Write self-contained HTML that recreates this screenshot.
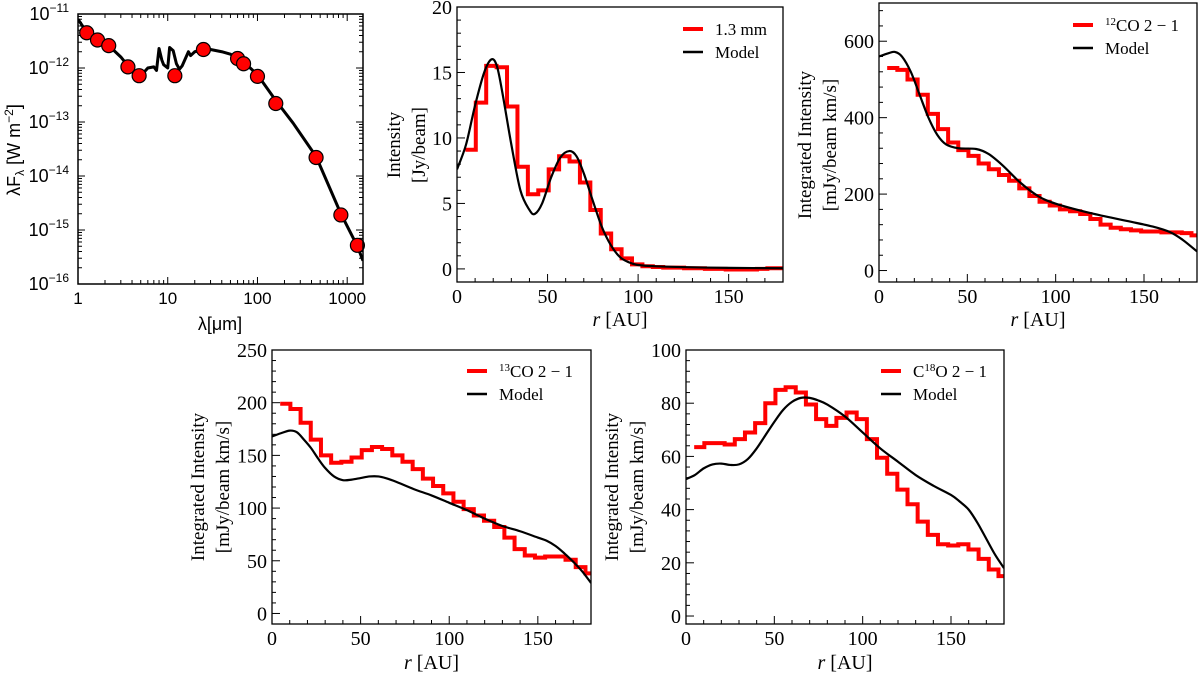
<!DOCTYPE html>
<html><head><meta charset="utf-8"><style>
html,body{margin:0;padding:0;background:#fff;}
svg{display:block;}
.serif{font-family:"Liberation Serif",serif;}
.sans{font-family:"Liberation Sans",sans-serif;}
</style></head><body>
<svg id="fig" width="1200" height="675" viewBox="0 0 1200 675"></svg>
<script>
// ---------- Panel 1 (SED) data ----------
const sedObsWave = [1.25,1.65,2.2,3.6,4.8,12,25,60,70,100,160,450,850,1300];
const sedObsFlux = [4.5e-12,3.3e-12,2.6e-12,1.05e-12,0.72e-12,0.72e-12,2.2e-12,1.5e-12,1.2e-12,0.7e-12,2.2e-13,2.2e-14,1.9e-15,5.2e-16];
const sedModelWave = [1,1.25,1.6,2.2,3,3.6,4.3,4.8,5.5,6,7,7.5,8,8.6,9,10,10.5,11.5,12.5,13.5,14.5,17,18,20,25,30,40,50,70,100,160,250,450,850,1300,1500];
const sedModelFlux = [8e-12,4.6e-12,3.4e-12,2.6e-12,1.6e-12,1.1e-12,0.85e-12,0.75e-12,0.85e-12,1.0e-12,1.05e-12,0.9e-12,2.3e-12,1.4e-12,1.15e-12,1.0e-12,2.4e-12,2.1e-12,1.2e-12,0.95e-12,1.1e-12,2.0e-12,1.7e-12,2.0e-12,2.2e-12,2.2e-12,2.0e-12,1.8e-12,1.3e-12,0.75e-12,0.25e-12,0.095e-12,2.3e-14,2.0e-15,5.0e-16,2.7e-16];
const sedXTicks = [1,10,100,1000];
const sedXTickLabels = ["1","10","100","1000"];
const sedYExp = [-11,-12,-13,-14,-15,-16];

// ---------- Profile panels data ----------
const binCenters = [7.5,13.25,19,24.75,30.5,36.25,42,47.75,53.5,59.25,65,70.75,76.5,82.25,88,93.75,99.5,105.25,111,116.75,122.5,128.25,134,139.75,145.5,151.25,157,162.75,168.5,174.25,179.5];

const contObs = [9.1,12.7,15.5,15.4,12.4,7.8,5.7,6.0,7.6,8.6,8.2,6.6,4.5,2.7,1.5,0.8,0.35,0.2,0.15,0.1,0.1,0.05,0.05,0,0,-0.05,-0.05,-0.05,0,0.05,0.05];
const contModelR = [0,5,10,15,19,22,25,30,35,40,43,47,52,57,62,66,70,75,80,85,90,95,100,110,130,150,180];
const contModelV = [7.6,9.5,12.5,15,16,15.5,13.5,9.5,6,4.5,4.2,5,7,8.5,9.0,8.6,7.3,5.2,3.2,1.8,0.9,0.5,0.3,0.2,0.12,0.08,0.05];

const co12Obs = [530,525,500,460,410,370,335,315,300,280,265,250,235,215,195,180,170,160,155,148,135,120,112,108,105,102,102,100,100,98,92];
const co12ModelR = [0,5,9,13,18,23,28,33,38,45,55,62,70,80,90,100,120,140,155,165,172,180];
const co12ModelV = [560,568,572,560,520,460,400,355,330,320,318,305,275,230,195,175,150,130,115,100,80,50];

const co13Obs = [199,194,181,165,150,143,144,148,155,158,156,150,144,137,128,121,114,106,99,93,88,82,72,61,55,53,54,54,51,44,38];
const co13ModelR = [0,5,10,14,18,22,26,30,35,40,45,50,55,60,65,70,80,90,100,110,120,130,140,150,155,160,165,170,175,180];
const co13ModelV = [168,171,173.5,172,165,157,147,138,130,126.5,127,128.5,130,130,128,125,118,112,105,98,90,83,78,72,69,64,57,49,40,29];

const c18Obs = [63.5,65,65,64.5,66.5,69,72.5,80,85,86,84,79.5,74,71.5,74.5,76.5,74,66.5,59.5,53.5,47.5,42,35.5,30.5,27,26.5,27,25,21.5,17.5,15];
const c18ModelR = [0,5,10,15,20,25,30,35,40,45,50,55,60,65,70,75,80,90,100,110,120,130,140,150,155,160,165,170,175,180];
const c18ModelV = [51.5,53,55.5,57,57.3,56.8,57,59,63,68,73,77.5,80.5,82,82,81,79.5,75,69,63,58,53,49,45.5,43,40,35,29,23,18];

const xTicksR = [0,50,100,150];
const contYTicks = [0,5,10,15,20];
const co12YTicks = [0,200,400,600];
const co13YTicks = [0,50,100,150,200,250];
const c18YTicks = [0,20,40,60,80,100];

const NS = "http://www.w3.org/2000/svg";
const svg = document.getElementById('fig');
function mk(tag, attrs, parent, text){
  const e = document.createElementNS(NS, tag);
  for (const k in attrs) e.setAttribute(k, attrs[k]);
  if (text !== undefined) e.textContent = text;
  (parent || svg).appendChild(e);
  return e;
}
function smoothPath(pts){
  let d = "M"+pts[0][0].toFixed(2)+","+pts[0][1].toFixed(2);
  for (let i=0;i<pts.length-1;i++){
    const p0 = pts[Math.max(0,i-1)], p1 = pts[i], p2 = pts[i+1], p3 = pts[Math.min(pts.length-1,i+2)];
    const c1x = p1[0]+(p2[0]-p0[0])/6, c1y = p1[1]+(p2[1]-p0[1])/6;
    const c2x = p2[0]-(p3[0]-p1[0])/6, c2y = p2[1]-(p3[1]-p1[1])/6;
    d += " C"+c1x.toFixed(2)+","+c1y.toFixed(2)+" "+c2x.toFixed(2)+","+c2y.toFixed(2)+" "+p2[0].toFixed(2)+","+p2[1].toFixed(2);
  }
  return d;
}

// ---------- Panel 1 ----------
(function(){
  const L=78,R=363,T=14,B=284;
  const g = mk('g',{});
  
  
  const xs = v => L + (Math.log10(v)-0)/(Math.log10(1500)) * (R-L);
  const ys = v => T + (-11 - Math.log10(v))/5 * (B-T);
  const clip = mk('clipPath',{id:'c1'},g); mk('rect',{x:L,y:T,width:R-L,height:B-T},clip);
  for (let dec=0; dec<4; dec++){
    for (let m=1;m<10;m++){
      const v = m*Math.pow(10,dec); if (v>1500) break;
      const x = xs(v), len = m===1?7:4;
      mk('line',{x1:x,y1:B,x2:x,y2:B-len,stroke:'#000','stroke-width':1},g);
      mk('line',{x1:x,y1:T,x2:x,y2:T+len,stroke:'#000','stroke-width':1},g);
    }
  }
  for (let e=-16;e<-11;e++){
    for (let m=1;m<10;m++){
      const y = ys(m*Math.pow(10,e)), len = m===1?7:4;
      mk('line',{x1:L,y1:y,x2:L+len,y2:y,stroke:'#000','stroke-width':1},g);
      mk('line',{x1:R,y1:y,x2:R-len,y2:y,stroke:'#000','stroke-width':1},g);
    }
  }
  sedXTicks.forEach((v,i)=>{
    const t = mk('text',{x:xs(v),y:304,'text-anchor':'middle','font-size':17,class:'sans'},g,sedXTickLabels[i]);
    
    
  });
  sedYExp.forEach(e=>{
    const t = mk('text',{x:69,y:ys(Math.pow(10,e))+6,'text-anchor':'end','font-size':18,class:'sans'},g);
    mk('tspan',{},t,'10');
    mk('tspan',{dy:-8,'font-size':12},t,String(e).replace('-','\u2212'));
    
    
  });
  const line = mk('polyline',{points:sedModelWave.map((w,i)=>xs(w).toFixed(2)+','+ys(sedModelFlux[i]).toFixed(2)).join(' '),fill:'none',stroke:'#000','stroke-width':3,'stroke-linejoin':'round','clip-path':'url(#c1)'},g);
  
  
  sedObsWave.forEach((w,i)=>{
    const c = mk('circle',{cx:xs(w),cy:ys(sedObsFlux[i]),r:7,fill:'#ff0000',stroke:'#000','stroke-width':1.2},g);
    
    
  });
  mk('rect',{x:L,y:T,width:R-L,height:B-T,fill:'none',stroke:'#000','stroke-width':1.5},g);
  const xl = mk('text',{x:220,y:330,'text-anchor':'middle','font-size':18,class:'sans'},g,'λ[μm]');
  
  
  const yl = mk('text',{transform:'translate(20,150) rotate(-90)','text-anchor':'middle','font-size':18,class:'sans'},g);
  mk('tspan',{},yl,'λF');
  mk('tspan',{dy:4,'font-size':12},yl,'λ');
  mk('tspan',{dy:-4},yl,' [W m');
  mk('tspan',{dy:-7,'font-size':12},yl,'−2');
  mk('tspan',{dy:7},yl,']');
  
  
})();

// ---------- Generic profile panel ----------
function profilePanel(o){
  const {L,R,T,B,ymin,ymax,obs,modelR,modelV,yticks,minorY,id,legendLabel,legX,legY,ylabLines,ylabX,ylabY,xlabY,tickY,name}=o;
  const g = mk('g',{});
  
  
  const xs = v => L + v/180*(R-L);
  const ys = v => B - (v-ymin)/(ymax-ymin)*(B-T);
  const clip = mk('clipPath',{id:id},g); mk('rect',{x:L,y:T,width:R-L,height:B-T},clip);
  for (let v=0; v<=180; v+=10){
    const x=xs(v), len = v%50===0?8:4;
    mk('line',{x1:x,y1:B,x2:x,y2:B-len,stroke:'#000','stroke-width':1},g);
  }
  for (let v=0; v<=ymax; v+=minorY){
    const y=ys(v), major = yticks.some(t=>Math.abs(t-v)<1e-9), len = major?8:4;
    mk('line',{x1:L,y1:y,x2:L+len,y2:y,stroke:'#000','stroke-width':1},g);
  }
  xTicksR.forEach(v=>{
    const t = mk('text',{x:xs(v),y:tickY,'text-anchor':'middle','font-size':20,class:'serif'},g,String(v));
    
    
  });
  yticks.forEach(v=>{
    const t = mk('text',{x:L-5,y:ys(v)+7,'text-anchor':'end','font-size':20,class:'serif'},g,String(v));
    
    
  });
  let d = '';
  for (let i=0;i<binCenters.length;i++){
    const c = binCenters[i];
    const prev = i>0 ? binCenters[i-1] : c - (binCenters[1]-binCenters[0]);
    const next = i<binCenters.length-1 ? binCenters[i+1] : c + (c-prev);
    const x0 = xs((prev+c)/2), x1 = xs((c+next)/2), y = ys(obs[i]);
    d += (i===0?'M':'L')+x0.toFixed(2)+','+y.toFixed(2)+' L'+x1.toFixed(2)+','+y.toFixed(2)+' ';
  }
  const st = mk('path',{d:d,fill:'none',stroke:'#ff0000','stroke-width':4,'clip-path':'url(#'+id+')'},g);
  
  
  const ml = mk('path',{d:smoothPath(modelR.map((r,i)=>[xs(r),ys(modelV[i])])),fill:'none',stroke:'#000','stroke-width':2.2,'clip-path':'url(#'+id+')'},g);
  
  
  mk('rect',{x:L,y:T,width:R-L,height:B-T,fill:'none',stroke:'#000','stroke-width':1.3},g);
  const lg = mk('g',{},g);
  
  
  mk('line',{x1:legX,y1:legY,x2:legX+20,y2:legY,stroke:'#ff0000','stroke-width':4},lg);
  const t1 = mk('text',{x:legX+32,y:legY+6,'font-size':17,class:'serif'},lg);
  legendLabel(t1);
  
  
  mk('line',{x1:legX,y1:legY+23,x2:legX+20,y2:legY+23,stroke:'#000','stroke-width':2.5},lg);
  const t2 = mk('text',{x:legX+32,y:legY+29,'font-size':17,class:'serif'},lg,'Model');
  
  
  const xl = mk('text',{x:(L+R)/2,y:xlabY,'text-anchor':'middle','font-size':20,class:'serif'},g);
  mk('tspan',{'font-style':'italic'},xl,'r');
  mk('tspan',{},xl,' [AU]');
  
  
  ylabLines.forEach((s,i)=>{
    const yl = mk('text',{transform:'translate('+(ylabX+i*25)+','+ylabY+') rotate(-90)','text-anchor':'middle','font-size':19,class:'serif'},g,s);
    
    
  });
}
function coLabel(sup, pre, post){
  return function(t){
    if (pre) mk('tspan',{},t,pre);
    mk('tspan',{dy:-6,'font-size':11},t,sup);
    mk('tspan',{dy:6},t,post);
  };
}
profilePanel({name:'continuum-panel',id:'c2',L:457,R:783,T:7,B:282,ymin:-1,ymax:20,obs:contObs,modelR:contModelR,modelV:contModelV,yticks:contYTicks,minorY:1,
  legendLabel:t=>{t.textContent='1.3 mm';},legX:683,legY:29,ylabLines:['Intensity','[Jy/beam]'],ylabX:400,ylabY:145,xlabY:326,tickY:303});
profilePanel({name:'co12-panel',id:'c3',L:879,R:1197,T:3,B:282,ymin:-30,ymax:700,obs:co12Obs,modelR:co12ModelR,modelV:co12ModelV,yticks:co12YTicks,minorY:40,
  legendLabel:coLabel('12','','CO 2 − 1'),legX:1073,legY:25,ylabLines:['Integrated Intensity','[mJy/beam km/s]'],ylabX:811,ylabY:145,xlabY:326,tickY:303});
profilePanel({name:'co13-panel',id:'c4',L:272,R:591,T:350,B:624,ymin:-10,ymax:250,obs:co13Obs,modelR:co13ModelR,modelV:co13ModelV,yticks:co13YTicks,minorY:10,
  legendLabel:coLabel('13','','CO 2 − 1'),legX:467,legY:371,ylabLines:['Integrated Intensity','[mJy/beam km/s]'],ylabX:204,ylabY:487,xlabY:669,tickY:645});
profilePanel({name:'c18o-panel',id:'c5',L:686,R:1004,T:350,B:624,ymin:-3,ymax:100,obs:c18Obs,modelR:c18ModelR,modelV:c18ModelV,yticks:c18YTicks,minorY:4,
  legendLabel:coLabel('18','C','O 2 − 1'),legX:881,legY:371,ylabLines:['Integrated Intensity','[mJy/beam km/s]'],ylabX:618,ylabY:487,xlabY:669,tickY:645});
</script>
</body></html>
